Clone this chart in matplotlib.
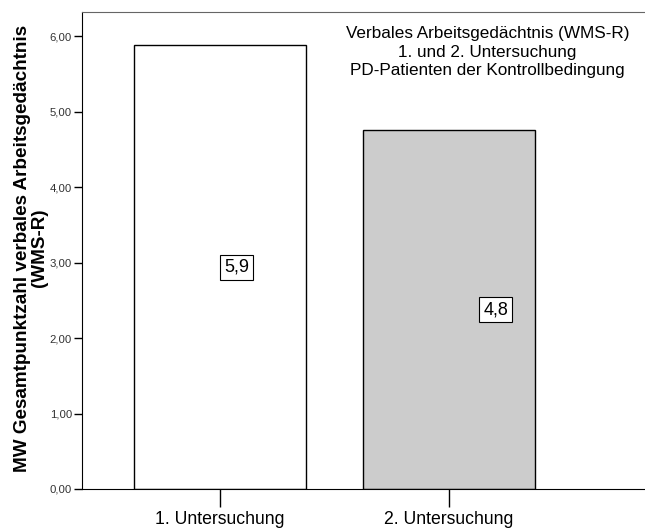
import matplotlib
matplotlib.use("Agg")
import matplotlib.pyplot as plt

categories = ["1. Untersuchung", "2. Untersuchung"]
values = [5.88, 4.75]
value_labels = ["5,9", "4,8"]
bar_colors = ["#ffffff", "#cccccc"]
yticks = [0, 1, 2, 3, 4, 5, 6]
ytick_labels = ["0,00", "1,00", "2,00", "3,00", "4,00", "5,00", "6,00"]
label_x_offsets = [0.074, 0.205]
title_lines = "Verbales Arbeitsgedächtnis (WMS-R)\n1. und 2. Untersuchung\nPD-Patienten der Kontrollbedingung"
ylabel = "MW Gesamtpunktzahl verbales Arbeitsgedächtnis\n(WMS-R)"

plt.rcParams['font.family'] = ['Liberation Sans', 'DejaVu Sans']

fig = plt.figure(figsize=(6.45, 5.28), dpi=100)
left = 81.7 / 645
bottom = 1 - 489 / 528
top = 1 - 12 / 528
ax = fig.add_axes([left, bottom, 1 - left, top - bottom])

x = list(range(len(categories)))
ax.bar(x, values, width=0.751, color=bar_colors, edgecolor="black", linewidth=1.0, zorder=2)

for xi, v, lab, off in zip(x, values, value_labels, label_x_offsets):
    ax.text(xi + off, v / 2, lab, ha="center", va="center", fontsize=13,
            bbox=dict(boxstyle="square,pad=0.22", facecolor="white", edgecolor="black", linewidth=0.8),
            zorder=3)

ax.set_xlim(-0.603, 1.856)
ax.set_ylim(0, 6.32)
ax.set_xticks(x)
ax.set_xticklabels(categories, fontsize=12.7)
ax.set_yticks(yticks)
ax.set_yticklabels(ytick_labels, fontsize=8.2, color="#333333")
ax.tick_params(axis="y", length=6, width=1, pad=1)
ax.tick_params(axis="x", length=13, width=1, pad=3)

ax.spines["right"].set_visible(False)
ax.spines["top"].set_color("#666666")
ax.spines["left"].set_color("black")
ax.spines["bottom"].set_color("black")

fig.text(31 / 645, 1 - 248 / 528, ylabel, rotation=90, ha="center", va="center",
         fontsize=13.6, fontweight="bold", linespacing=1.0, multialignment="center")

fig.text(487.5 / 645, 1 - 52 / 528, title_lines, ha="center", va="center",
         fontsize=12.3, linespacing=1.3)

fig.savefig("out.png", dpi=100)
